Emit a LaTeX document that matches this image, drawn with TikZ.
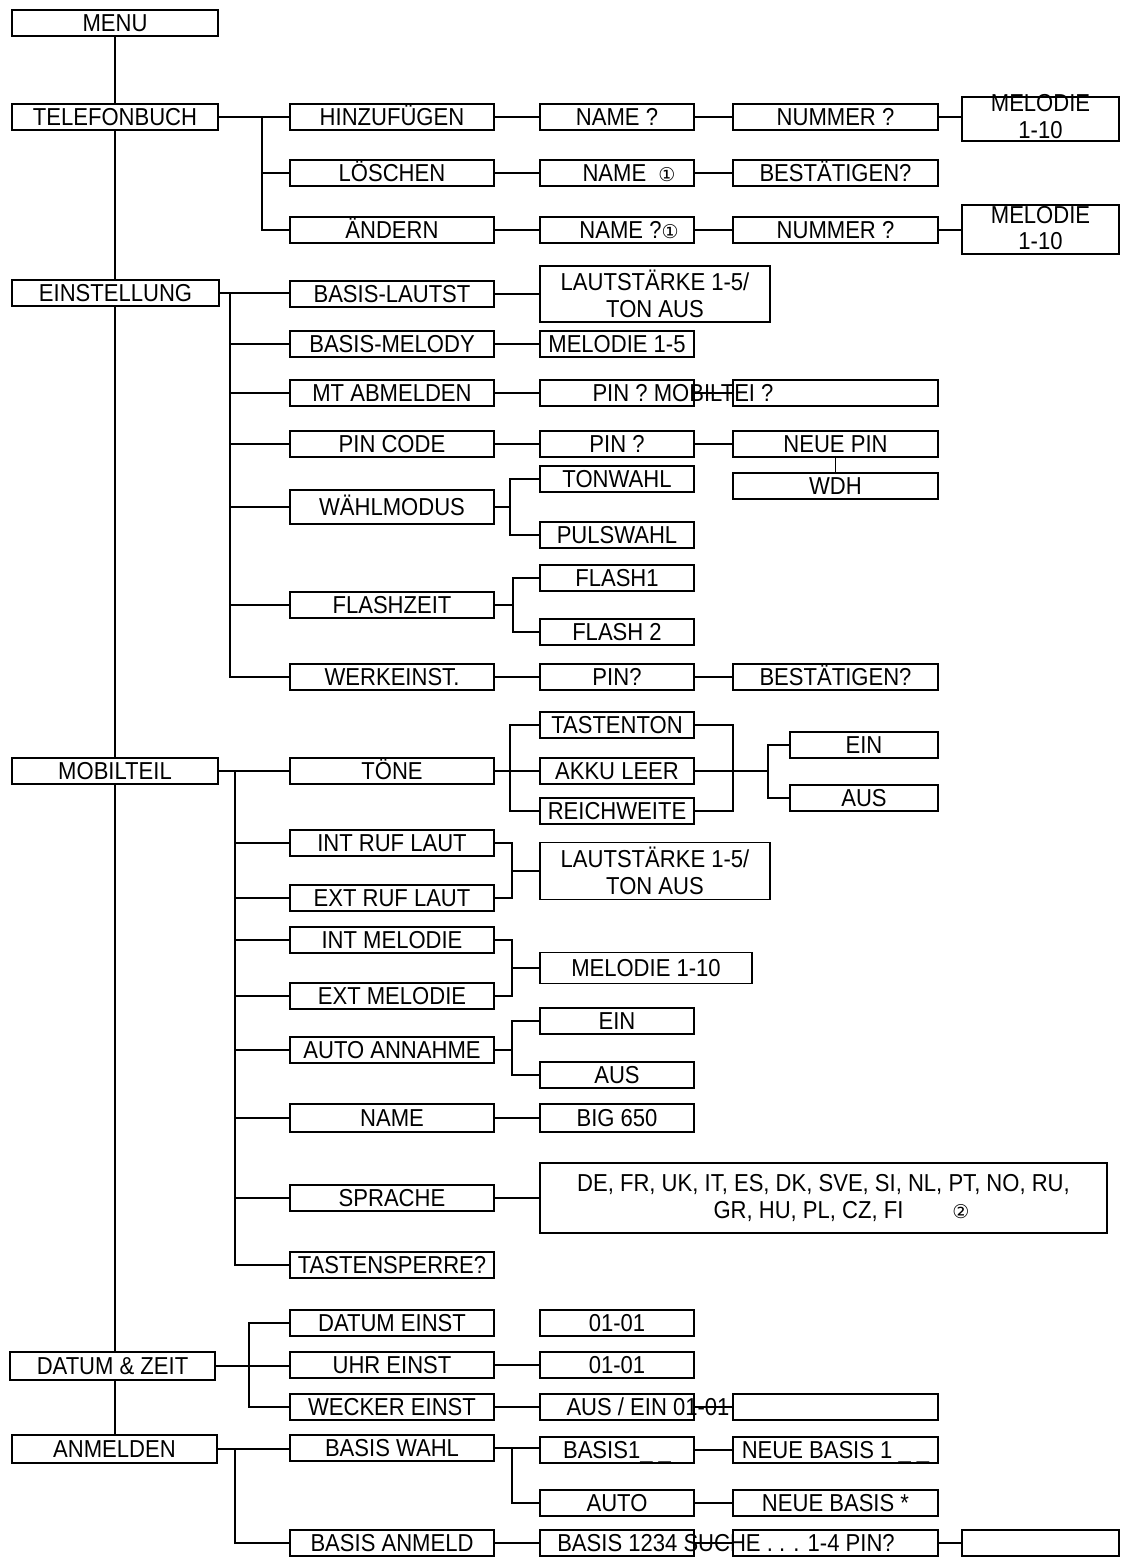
\documentclass[tikz,border=0pt]{standalone}
\usepackage{fontspec}
\setmainfont{Liberation Sans}[FakeStretch=0.9]
\newfontfamily\dvs{DejaVu Sans}
\newcommand{\cir}[1]{{\dvs\fontsize{19}{19}\selectfont #1}}
\begin{document}
\begin{tikzpicture}[x=1pt,y=-1pt,
  bx/.style={draw, line width=1.7pt, inner sep=0pt, minimum height=26pt,
    text height=17.5pt, text depth=0pt, font=\fontsize{24.5}{28}\selectfont},
  cA/.style={bx, minimum width=206pt},
  cB/.style={bx, minimum width=204pt},
  cC/.style={bx, minimum width=154pt},
  cD/.style={bx, minimum width=205pt},
  cE/.style={bx, minimum width=157pt},
  mbox/.style={draw, line width=1.7pt, inner sep=0pt, align=center, font=\fontsize{24.5}{27}\selectfont},
  txt/.style={inner sep=0pt, text height=17.5pt, text depth=0pt, font=\fontsize{24.5}{28}\selectfont},
  ln/.style={line width=1.7pt}]
\fill[white] (0,0) rectangle (1132,1567);
\useasboundingbox (0,0) rectangle (1132,1567);

% column 1
\node[cA] (menu) at (115,23) {MENU};
\node[cA] (tel) at (115,117) {TELEFONBUCH};
\node[cA, minimum width=207pt] (ein) at (115.5,293) {EINSTELLUNG};
\node[cA] (mob) at (115,771) {MOBILTEIL};
\node[cA, minimum width=205pt, minimum height=28pt] (dat) at (112.5,1366) {DATUM \& ZEIT};
\node[cA, minimum width=205pt, minimum height=28pt] (anm) at (114.5,1449) {ANMELDEN};

% column 2
\node[cB] (hin) at (392,117) {HINZUFÜGEN};
\node[cB] (loe) at (392,173) {LÖSCHEN};
\node[cB] (aen) at (392,230) {ÄNDERN};
\node[cB] (blt) at (392,294) {BASIS-LAUTST};
\node[cB] (bml) at (392,344) {BASIS-MELODY};
\node[cB] (mta) at (392,393) {MT ABMELDEN};
\node[cB] (pinc) at (392,444) {PIN CODE};
\node[cB, minimum height=34pt] (wmod) at (392,507) {WÄHLMODUS};
\node[cB] (flz) at (392,605) {FLASHZEIT};
\node[cB] (werk) at (392,677) {WERKEINST.};
\node[cB] (toene) at (392,771) {TÖNE};
\node[cB] (irl) at (392,843) {INT RUF LAUT};
\node[cB] (erl) at (392,898) {EXT RUF LAUT};
\node[cB] (imel) at (392,940) {INT MELODIE};
\node[cB] (emel) at (392,996) {EXT MELODIE};
\node[cB] (auto) at (392,1050) {AUTO ANNAHME};
\node[cB, minimum height=28pt] (name) at (392,1118) {NAME};
\node[cB] (spr) at (392,1198) {SPRACHE};
\node[cB] (tsp) at (392,1265) {TASTENSPERRE?};
\node[cB] (dein) at (392,1323) {DATUM EINST};
\node[cB] (uein) at (392,1365) {UHR EINST};
\node[cB] (wein) at (392,1407) {WECKER EINST};
\node[cB] (bwahl) at (392,1448) {BASIS WAHL};
\node[cB] (banm) at (392,1543) {BASIS ANMELD};

% column 3
\node[cC] (nm1) at (617,117) {NAME ?};
\node[cC] (nm2) at (617,173) {\hspace*{24pt}NAME\enspace\cir{①}};
\node[cC] (nm3) at (617,230) {\hspace*{24pt}NAME ?\cir{①}};
\node[mbox, minimum width=230pt, minimum height=56pt] (lt1) at (655,294) {LAUTSTÄRKE 1-5/\\TON AUS};
\node[cC] (mel5) at (617,344) {MELODIE 1-5};
\node[cC] (pinq) at (617,393) {};
\node[cC] (pin2) at (617,444) {PIN ?};
\node[cC] (ton) at (617,479) {TONWAHL};
\node[cC] (puls) at (617,535) {PULSWAHL};
\node[cC] (fl1) at (617,578) {FLASH1};
\node[cC] (fl2) at (617,632) {FLASH 2};
\node[cC] (pin3) at (617,677) {PIN?};
\node[cC] (tast) at (617,725) {TASTENTON};
\node[cC] (akku) at (617,771) {AKKU LEER};
\node[cC] (reich) at (617,811) {REICHWEITE};
\node[mbox, minimum width=230pt, minimum height=57pt] (lt2) at (655,871) {LAUTSTÄRKE 1-5/\\TON AUS};
\node[cC, minimum width=212pt, minimum height=31pt] (mel10) at (646,968) {MELODIE 1-10};
\node[cC] (aein) at (617,1021) {EIN};
\node[cC] (aaus) at (617,1075) {AUS};
\node[cC, minimum height=28pt] (big) at (617,1118) {BIG 650};
\node[mbox, minimum width=567pt, minimum height=70pt] (spl) at (823.5,1198) {DE, FR, UK, IT, ES, DK, SVE, SI, NL, PT, NO, RU,\\\hspace*{36pt}GR, HU, PL, CZ, FI\qquad\cir{②}};
\node[cC] (d1) at (617,1323) {01-01};
\node[cC] (d2) at (617,1365) {01-01};
\node[cC] (we1) at (617,1407) {};
\node[cC] (b1) at (617,1450) {BASIS1\_ \_};
\node[cC] (bauto) at (617,1503) {AUTO};
\node[cC] (ba1) at (617,1543) {};

% column 4
\node[cD] (num1) at (835.5,117) {NUMMER ?};
\node[cD] (best1) at (835.5,173) {BESTÄTIGEN?};
\node[cD] (num2) at (835.5,230) {NUMMER ?};
\node[cD] (mob2) at (835.5,393) {};
\node[cD] (npin) at (835.5,444) {NEUE PIN};
\node[cD] (wdh) at (835.5,486) {WDH};
\node[cD] (best2) at (835.5,677) {BESTÄTIGEN?};
\node[cD, minimum width=148pt] (ein2) at (864,745) {EIN};
\node[cD, minimum width=148pt] (aus2) at (864,798) {AUS};
\node[cD] (we2) at (835.5,1407) {};
\node[cD] (nb1) at (835.5,1450) {NEUE BASIS 1 \_ \_};
\node[cD] (nbs) at (835.5,1503) {NEUE BASIS *};
\node[cD] (ba2) at (835.5,1543) {};

% column 5
\node[cE, minimum height=44pt] (mel1) at (1040.5,119) {};
\node[txt] (mel1a) at (1040.5,103) {MELODIE};
\node[txt] (mel1b) at (1040.5,130) {1-10};
\node[cE, minimum height=49pt] (mel2) at (1040.5,229.5) {};
\node[txt] (mel2a) at (1040.5,215) {MELODIE};
\node[txt] (mel2b) at (1040.5,241) {1-10};
\node[cE] (emp) at (1040.5,1543) {};

% overflowing texts
\node[txt] (tmob) at (683,393) {PIN ? MOBILTEI ?};
\node[txt] (twe) at (648,1407) {AUS / EIN 01-01};
\node[txt] (tba) at (726,1543) {BASIS 1234 SUCHE . . . 1-4 PIN?};

% trunk
\draw[ln] (menu.south) -- (tel.north);
\draw[ln] (tel.south) -- (tel.south |- ein.north);
\draw[ln] (ein.south -| tel.south) -- (mob.north);
\draw[ln] (mob.south) -- (mob.south |- dat.north);
\draw[ln] (mob.south |- dat.south) -- (mob.south |- anm.north);

% TELEFONBUCH
\draw[ln] (tel.east) -- (hin.west);
\draw[ln] (262,0 |- tel.east) |- (loe.west);
\draw[ln] (262,0 |- tel.east) |- (aen.west);
\draw[ln] (hin) -- (nm1);
\draw[ln] (nm1) -- (num1);
\draw[ln] (num1.east) -- (mel1.west |- num1.east);
\draw[ln] (loe) -- (nm2);
\draw[ln] (nm2) -- (best1);
\draw[ln] (aen) -- (nm3);
\draw[ln] (nm3) -- (num2);
\draw[ln] (num2.east) -- (mel2.west |- num2.east);

% EINSTELLUNG
\draw[ln] (ein.east) -- (ein.east -| blt.west);
\foreach \n in {bml,mta,pinc,wmod,flz,werk}
  \draw[ln] (230,0 |- ein.east) |- (\n.west);
\draw[ln] (blt.east) -- (blt.east -| lt1.west);
\draw[ln] (bml) -- (mel5);
\draw[ln] (mta) -- (pinq);
\draw[ln] (pinq) -- (mob2);
\draw[ln] (pinc) -- (pin2);
\draw[ln] (pin2) -- (npin);
\draw[ln] (npin) -- (wdh);
\draw[ln] (ton.west) -| (510,0 |- wmod.east) |- (puls.west);
\draw[ln] (wmod.east) -- (510,0 |- wmod.east);
\draw[ln] (fl1.west) -| (513,0 |- flz.east) |- (fl2.west);
\draw[ln] (flz.east) -- (513,0 |- flz.east);
\draw[ln] (werk) -- (pin3);
\draw[ln] (pin3) -- (best2);

% MOBILTEIL
\draw[ln] (mob.east) -- (toene.west);
\foreach \n in {irl,erl,imel,emel,auto,name,spr,tsp}
  \draw[ln] (235,0 |- mob.east) |- (\n.west);
\draw[ln] (tast.west) -| (510,0 |- toene.east) |- (reich.west);
\draw[ln] (toene) -- (akku);
\draw[ln] (tast.east) -| (733,0 |- akku.east) |- (reich.east);
\draw[ln] (akku.east) -- (768,0 |- akku.east);
\draw[ln] (ein2.west) -| (768,0 |- akku.east) |- (aus2.west);
\draw[ln] (irl.east) -| (512,0 |- lt2.west) |- (erl.east);
\draw[ln] (512,0 |- lt2.west) -- (lt2.west);
\draw[ln] (imel.east) -| (512,0 |- mel10.west) |- (emel.east);
\draw[ln] (512,0 |- mel10.west) -- (mel10.west);
\draw[ln] (aein.west) -| (512,0 |- auto.east) |- (aaus.west);
\draw[ln] (auto.east) -- (512,0 |- auto.east);
\draw[ln] (name) -- (big);
\draw[ln] (spr.east) -- (spl.west |- spr.east);

% DATUM & ZEIT
\draw[ln] (dat.east) -- (dat.east -| uein.west);
\draw[ln] (dein.west) -| (249,0 |- dat.east) |- (wein.west);
\draw[ln] (uein) -- (d2);
\draw[ln] (wein) -- (we1);
\draw[ln] (we1) -- (we2);

% ANMELDEN
\draw[ln] (anm.east) -- (anm.east -| bwahl.west);
\draw[ln] (235,0 |- anm.east) |- (banm.west);
\draw[ln] (bwahl.east) -- (bwahl.east -| b1.west);
\draw[ln] (512,0 |- bwahl.east) |- (bauto.west);
\draw[ln] (b1) -- (nb1);
\draw[ln] (bauto) -- (nbs);
\draw[ln] (banm) -- (ba1);
\draw[ln] (ba1) -- (ba2);
\draw[ln] (ba2) -- (emp);
\end{tikzpicture}
\end{document}
